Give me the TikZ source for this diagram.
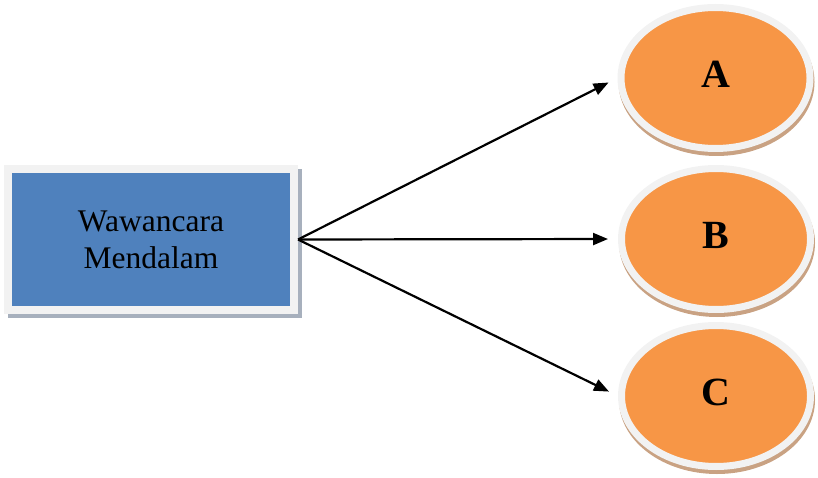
\documentclass[tikz,border=0pt]{standalone}
\usepackage{fontspec}
\setmainfont{Liberation Serif}
\usetikzlibrary{shapes,shadows,arrows.meta}
\definecolor{boxblue}{HTML}{4F81BD}
\definecolor{ringgray}{HTML}{F2F2F2}
\definecolor{boxshadow}{HTML}{A7B0BD}
\definecolor{ovalorange}{HTML}{F79646}
\definecolor{ovalshadow}{HTML}{C9A283}

\begin{document}
\begin{tikzpicture}[x=1pt,y=-1pt,
  box/.style={rectangle,fill=boxblue,draw=ringgray,line width=8pt,minimum width=286pt,minimum height=141pt,inner sep=0pt,align=center,font=\fontsize{31.5}{37}\selectfont,
    drop shadow={shadow xshift=4pt,shadow yshift=-4pt,opacity=1,fill=boxshadow,draw=boxshadow}},
  oval/.style={ellipse,fill=ovalorange,draw=ringgray,line width=7pt,minimum width=189pt,minimum height=141pt,inner sep=0pt,text depth=8pt,font=\fontsize{40}{48}\selectfont\bfseries,
    drop shadow={shadow xshift=1pt,shadow yshift=-4pt,opacity=1,fill=ovalshadow,draw=ovalshadow}},
  link/.style={line width=2.2pt,-{Triangle[length=15pt,width=12pt]},shorten >=10pt}]
\useasboundingbox (0,0) rectangle (818,478);
\node[box] (wm) at (151,239.5) {Wawancara\\Mendalam};
\node[oval] (a) at (715.5,78) {A};
\node[oval] (b) at (716,239) {B};
\node[oval] (c) at (716,396) {C};
\draw[link] (wm.east) -- (a.west);
\draw[link] (wm.east) -- (b.west);
\draw[link] (wm.east) -- (c.west);
\end{tikzpicture}
\end{document}
